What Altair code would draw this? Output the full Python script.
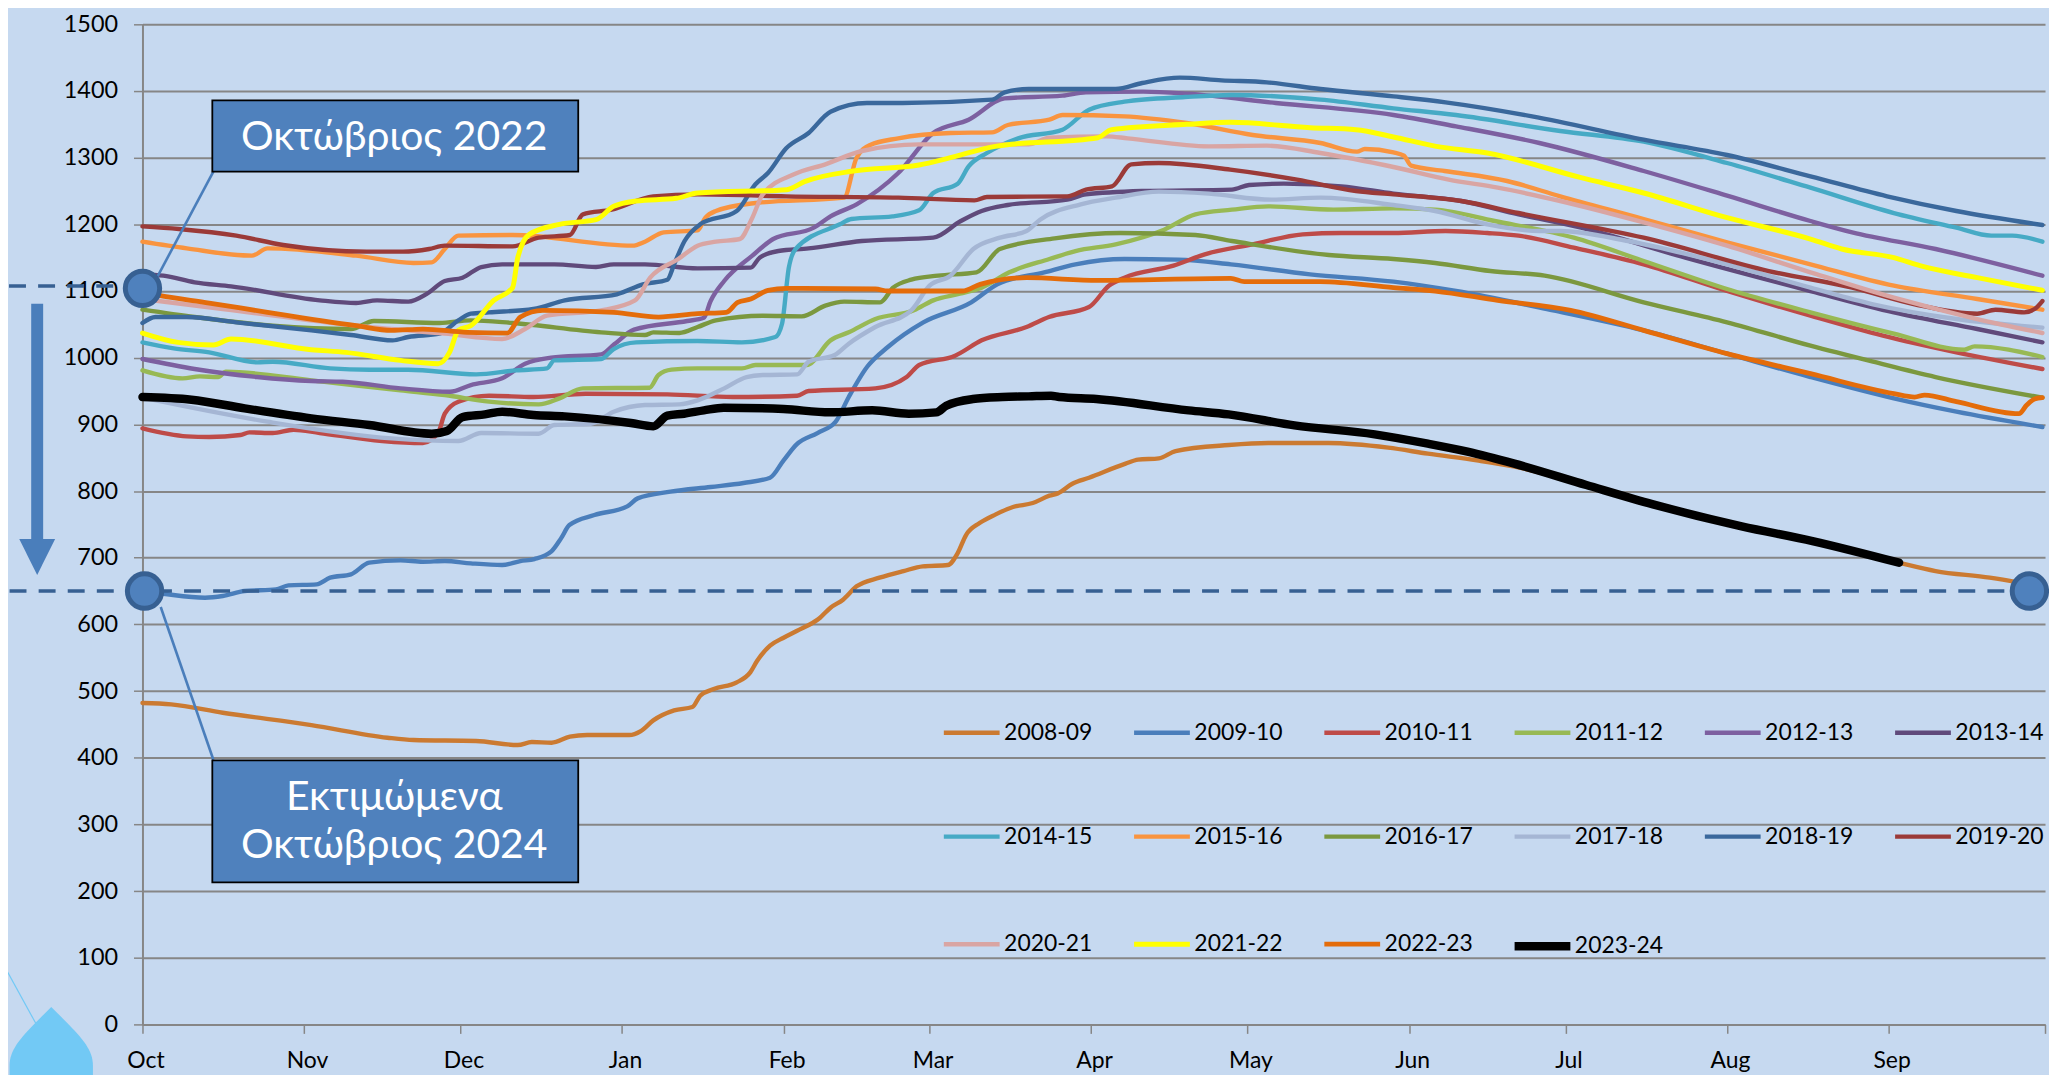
import json
import altair as alt
import pandas as pd

# ---------- axis content ----------
MONTH_DAYS = [0, 31, 61, 92, 123, 151, 182, 212, 243, 273, 304, 335, 365]
MONTH_NAMES = ["Oct", "Nov", "Dec", "Jan", "Feb", "Mar", "Apr", "May", "Jun", "Jul", "Aug", "Sep", ""]
Y_TICKS = list(range(0, 1501, 100))
SEASONS = ["2008-09", "2009-10", "2010-11", "2011-12", "2012-13", "2013-14", "2014-15", "2015-16",
           "2016-17", "2017-18", "2018-19", "2019-20", "2020-21", "2021-22", "2022-23", "2023-24"]
COLOURS = ["#cb7a31", "#4a7ebb", "#be4b48", "#98b954", "#7d60a0", "#604a7b", "#46aac5", "#f9943f",
           "#7b983f", "#a5b6d4", "#3a689c", "#9b3a38", "#d9a5a3", "#ffff00", "#e46c0a", "#000000"]
WIDTHS = [4.4, 4.4, 4.4, 4.4, 4.4, 4.4, 4.4, 4.4, 4.4, 4.4, 4.4, 4.4, 4.4, 5, 4.8, 8.5]

# ---------- series values: (day of the season, hm3) ----------
S0809 = [(0,482),(5.5,480),(15.4,467.5),(32.4,449),(47,430),(52,426.5),(64,425),(72,419),(74.7,423.5),(78.5,422.5),
         (82,431.5),(85.3,434),(93.4,434),(95.6,440),(98,456),(102,471),(105.5,476),(107,493),(109.6,503),(114,513),
         (116.6,528),(117.9,545),(120.4,568),(123,580),(125.5,590),(130,610),(132,625),(134.4,637),(137,657),(141.4,670),
         (146,680),(149.7,687),(154.5,689),(156.4,707),(158,734),(160.6,752),(163.7,765),(167,776),(170.8,782),(174,793),
         (175.6,796.5),(178.4,811),(181.6,820),(188.6,841),(191,847),(195,849),(198.2,860),(208.4,869),(216,872),(227.5,872),
         (239,865),(246.6,856),(256,846),(263,837),(277,809),(289.8,781),(306.8,748),(320.4,726),(337,692.5),
         (344,680),(354.4,670),(359,664),(364.5,655)]
S0910 = [(0,650),(4,646),(12,640),(15.4,642.5),(19.6,650),(25.6,652.5),(28,658.5),(33.4,660),(36,670),(40,675),
         (43.5,692.5),(49.5,696),(53.8,694),(58,695),(63,691.5),(69,689),(72.5,695),(75.2,698),(78.4,709),(80.3,729),
         (81.9,749),(86.7,764),(93,777),(95,789),(101.3,799),(109,806),(115.3,812),(120.4,820),(123,846),(125.5,870),
         (129.5,887),(133,904),(135.5,941),(139,986),(143,1016),(149.8,1053),(159,1083),(164,1110),(173,1128),(179,1140),
         (188.4,1148),(198.7,1147),(208.8,1140),(224,1125),(240,1114),(252,1100),(270.6,1071),(288,1041),(304,1006),(320,971),
         (336,939),(348,919),(364.5,896)]
S1011 = [(0,894),(8.5,882),(12.8,881),(18.8,884),(20.5,888),(25,887),(29,892),(34,887),(46,875),(53.8,872),
         (56.7,887),(58,916),(60.6,934),(66.5,943),(75,941),(85,946),(100.7,945),(113.3,941),(125.6,943),(127.8,950),
         (140.6,954),(146.6,971),(149,989),(155.9,1003),(161,1026),(169.6,1046),(173.9,1061),(181.6,1076),(185.4,1108),(188.4,1120),
         (197.8,1138),(203.8,1155),(213,1170),(222.6,1185),(230,1187),(240,1187),(250,1190),(258,1187),(264,1183),(274.6,1165),
         (288,1140),(304,1100),(320,1063),(333.9,1033),(348,1008),(364.5,983)]
S1112 = [(0,981),(7.7,969),(11,972),(14.5,971),(16,979),(32.4,966),(49.5,951),(58,944),(66.5,934),(76,930),
         (80,939),(84.5,954),(97.3,955),(99,974),(101.5,982),(106.5,984),(115,984),(117.6,989),(127.4,989),(132,1026),
         (135.5,1038),(140.6,1058),(148,1071),(151.7,1086),(156.8,1096),(161,1105),(166.3,1128),(174,1148),(179,1160),(186.7,1170),
         (196,1192),(202,1215),(209,1222),(216,1227),(228.5,1222),(240,1224),(248,1222),(259.4,1205),(274.6,1180),(288,1145),
         (304,1103),(320,1068),(336,1036),(349.5,1012),(351.5,1017),(364.5,1001)]
S1213 = [(0,998),(10,983),(22,971),(32.4,965),(38.4,964),(49.5,954),(59,949),(63,959),(69,969),(73.4,991),
         (78.4,1000),(88,1005),(90.5,1020),(94.3,1042),(104.5,1055),(107.7,1060),(109,1085),(111.6,1115),(117,1153),(121,1178),
         (128.8,1195),(132,1212),(137,1230),(145,1277),(151.7,1337),(158.5,1357),(165.4,1389),(176.5,1393),(181,1398),(192,1399),
         (200.3,1396),(217.4,1382),(240,1364),(252,1347),(268,1322),(288,1280),(304,1243),(320,1205),(328,1188),(344,1163),
         (364.5,1123)]
S1314 = [(0,1125),(4,1123),(10,1113),(17,1107),(34,1086),(41,1082),(45,1086),(51,1084),(54.6,1096),(58,1115),
         (61.4,1120),(65,1136),(69,1140),(79,1140),(87,1136),(90.4,1140),(96.4,1140),(106.5,1134),(116.7,1135),(118.4,1150),
         (122,1160),(127.8,1164),(138,1175),(151.7,1180),(157,1205),(161,1220),(166,1229),(177.4,1237),(181,1245),(192,1250),
         (209,1252),(212.3,1259),(219,1261),(230,1257),(240,1246),(253,1235),(264,1215),(276,1195),(296,1150),(320,1100),
         (336,1068),(352,1043),(364.5,1023)]
S1415 = [(0,1023),(6,1014),(12.8,1008),(22,993),(25,994),(36,984),(43.5,982),(51,982),(64,975),(71.7,981),
         (77.6,984),(79,996),(88,998),(90.4,1013),(94.7,1023),(106.5,1025),(115,1023),(121.4,1031),(122.7,1051),(124,1135),
         (125.3,1163),(133.8,1200),(136,1208),(143.9,1212),(149,1221),(151.7,1247),(156.4,1261),(158.5,1287),(162,1307),(168,1329),
         (176.5,1342),(181.6,1372),(188.4,1384),(200,1391),(209,1394),(226,1387),(240,1374),(252,1364),(272,1340),(288,1324),
         (304,1292),(320,1255),(336,1217),(348,1195),(354.7,1183),(358.7,1183),(364.5,1174)]
S1516 = [(0,1174),(8.5,1164),(21,1153),(24,1164),(41,1153),(52,1142),(55.5,1143),(58,1163),(60.6,1183),(71,1184),
         (94,1168),(96.4,1174),(100,1188),(106.5,1191),(108,1210),(110,1220),(117.6,1232),(134.6,1240),(137,1300),(139.6,1319),
         (145,1329),(155,1337),(163,1338),(166,1349),(174,1357),(176.5,1364),(188.4,1362),(200.3,1352),(213,1334),(226,1322),
         (233,1309),(234.5,1313),(240,1308),(242,1303),(243.4,1288),(249.8,1280),(261.8,1265),(272,1242),(288,1208),(304,1173),
         (320,1140),(336,1108),(352,1088),(364.5,1072)]
S1617 = [(0,1072),(10,1061),(25,1048),(40,1043),(44.4,1055),(57,1052),(63,1056),(71,1052),(88,1038),(96.4,1034),
         (98,1038),(103,1037),(106.5,1046),(110,1056),(119,1063),(126.5,1062),(131,1078),(134.6,1084),(141.5,1083),(144,1105),
         (147.5,1117),(152.6,1123),(160,1128),(164.5,1163),(175,1179),(187.6,1187),(202,1184),(209,1175),(227.6,1154),(240,1148),
         (248,1142),(258.6,1130),(269,1123),(288,1083),(304,1053),(320,1018),(332,994),(344,971),(364.5,940)]
S1718 = [(0,940),(24,904),(47.8,879),(60.6,875),(65,887),(76,886),(79,899),(86,901),(90.4,919),(96.4,929),
         (103,930),(106.5,936),(111.6,954),(115.9,971),(119,974),(125.6,975),(127.8,994),(132.8,1004),(135.5,1021),(140.6,1046),
         (147.5,1071),(151,1108),(155,1123),(159.4,1163),(164.5,1180),(169.6,1190),(172.2,1207),(180,1230),(186.7,1240),(195,1249),
         (204.6,1246),(216.6,1237),(226,1240),(240,1229),(248,1220),(258,1200),(268,1190),(272,1190),(285,1175),(304,1140),
         (320,1105),(332,1080),(348,1058),(364.5,1045)]
S1819 = [(0,1052),(2.5,1061),(8.5,1061),(18,1053),(32.4,1041),(40,1034),(48,1026),(51,1031),(57,1036),(60.6,1056),
         (63,1066),(66.5,1068),(75,1073),(81,1086),(91,1095),(96,1110),(100.7,1117),(102,1140),(104,1175),(107,1200),
         (114,1220),(117.6,1260),(120,1277),(123.5,1314),(127.8,1337),(132,1369),(139,1382),(145.8,1382),(163,1387),(165.4,1398),
         (170,1403),(186.7,1403),(191.8,1412),(199,1420),(207,1416),(215.7,1413),(226,1403),(240,1392),(250,1383),(266.6,1362),
         (288,1327),(304,1304),(320,1272),(334.7,1242),(348,1220),(364.5,1199)]
S1920 = [(0,1197),(7,1193),(18,1183),(27,1169),(43,1159),(50,1159),(55,1163),(58,1168),(71,1167),(76,1180),
         (82,1184),(84.5,1215),(90,1222),(98,1242),(106.5,1245),(123.5,1242),(145,1240),(159.6,1236),(162,1241),(177.4,1242),
         (181,1252),(186,1257),(189.7,1290),(195,1292),(208.7,1282),(221.5,1267),(232.8,1250),(240,1245),(253,1235),(264,1217),
         (288,1180),(312,1130),(328,1105),(340,1080),(352,1066),(355.5,1072),(361,1068),(363,1073),(364.5,1085)]
S2021 = [(0,1088),(15.4,1073),(41,1048),(58,1036),(69,1028),(73.4,1043),(77.6,1063),(88,1071),(94.5,1086),(97.4,1120),
         (102.8,1148),(106.5,1168),(110,1174),(114.6,1178),(117,1210),(119,1245),(125,1275),(131,1290),(138,1310),(149,1320),
         (170,1320),(174,1330),(185,1332),(189,1329),(204.6,1317),(215.7,1318),(226,1307),(240,1286),(250.6,1267),(260,1255),
         (272,1235),(288,1203),(304,1168),(320,1128),(336,1090),(352,1058),(364.5,1037)]
S2122 = [(0,1037),(6.8,1023),(13.6,1019),(17,1028),(32.4,1012),(39,1008),(49.5,996),(56.7,991),(58.9,1008),(60.6,1041),
         (63,1048),(67.4,1086),(71,1105),(72,1150),(74.2,1185),(80,1200),(87,1207),(90.4,1227),(94.7,1235),(102.4,1239),
         (106.5,1247),(123.6,1252),(127,1264),(136.4,1280),(149,1289),(155,1300),(163.6,1317),(183.3,1330),(185.9,1342),(200.3,1350),
         (208.8,1353),(224,1345),(232.8,1342),(240,1331),(248.2,1317),(258,1307),(276,1270),(288,1247),(304,1210),(320,1178),
         (326,1163),(336,1150),(341,1138),(352,1120),(364.5,1101)]
S2223 = [(0,1098),(3.4,1093),(12.8,1082),(24,1068),(41,1048),(47.8,1041),(53.8,1043),(62.3,1038),(70,1037),(72.5,1061),
         (76.8,1071),(90.4,1068),(99,1061),(106.5,1066),(112,1068),(114.2,1083),(116.7,1088),(120,1101),(123.6,1104),(140.6,1103),
         (143,1100),(157.3,1100),(160.7,1110),(169.6,1120),(183.3,1116),(208.8,1119),(211.4,1114),(226,1114),(240,1105),(248,1100),
         (260,1086),(274,1071),(288,1041),(304,1006),(320,976),(336,946),(340,941),(341.9,944),(348,934),(360,916),
         (361.5,929),(363,938),(364.5,940)]
S2324 = [(0,941),(9.4,937),(19.6,924),(32.4,909),(43.5,899),(55.5,886),(58.4,890),(61.4,911),(65.7,915),(69,919),
         (75,914),(81,912),(93.7,902),(98,897),(100.7,913),(103.9,916),(107.7,921),(111.5,925),(123,923),(131.9,918),
         (140,921),(147,916),(152.3,918),(154.2,928),(159.3,938),(165,941),(170,942),(174.3,943),(175.9,941),(183,938),
         (200.7,921),(208.4,915),(221,898.5),(236.4,885),(246.6,871),(254.2,859),(263.2,841),(277,809),(289.8,780),(306.8,747),
         (320.4,725),(337,692.5)]
ALL_SERIES = [S0809, S0910, S1011, S1112, S1213, S1314, S1415, S1516, S1617, S1718, S1819, S1920, S2021, S2122, S2223, S2324]

# ---------- annotation content (same day / value units as the chart) ----------
BOX_LEFT, BOX_RIGHT = 13.4, 83.6
BOX_TOPS = [1386, 396]
BOX_BOTTOMS = [1279, 213]
BOX_TEXT = ["Οκτώβριος 2022", "Εκτιμώμενα", "Οκτώβριος 2024"]
BOX_TEXT_Y = [1330, 340, 267]
BOX_TEXT_DAY = 48.3
MARKER_DAYS = [0, 0.4, 362]
MARKER_VALUES = [1104, 650, 650]
DASH_DAYS = [[-25.6, 0], [-25.5, 361]]
DASH_VALUES = [[1107.5, 1107.5], [650, 650]]
LEADER_DAYS = [[13.6, 2.9], [3.5, 13.6]]
LEADER_VALUES = [[1279, 1122], [626, 397]]
ARROW_DAY = -20.2
ARROW_VALUES = [1081, 727]
ARROW_HEAD_VALUE = 701
DROP_DAY, DROP_VALUE = -17.5, -35
DROP_LINE_DAYS = [-25.9, -20.5]
DROP_LINE_VALUES = [79, 2]

# ---------- tables ----------
rows = []
for season, pts in zip(SEASONS, ALL_SERIES):
    for d, v in pts:
        rows.append({"day": d, "value": v, "season": season})
series_df = pd.DataFrame(rows)

XS = alt.Scale(domain=[0, 365], nice=False, zero=False)
YS = alt.Scale(domain=[0, 1500], nice=False, zero=False)
FONT = "Lato"
BG = "#c6d9f0"
LINE_BLUE = "#4a7ebb"
DARK_BLUE = "#376092"
GREY = "#868686"

label_expr = "%s[indexof(%s, datum.value)]" % (json.dumps(MONTH_NAMES), json.dumps(MONTH_DAYS))
AX = alt.Axis(values=MONTH_DAYS, labelExpr=label_expr, grid=False, tickSize=9, tickColor=GREY, tickWidth=1.5,
              domainColor=GREY, domainWidth=2, labelFont=FONT, labelFontSize=23, labelColor="#000000",
              labelPadding=16, labelOffset=3, labelOverlap=False, labelFlush=False, title=None)
AY = alt.Axis(values=Y_TICKS, format="d", grid=True, gridColor=GREY, gridWidth=2, tickSize=9, tickColor=GREY, tickWidth=1.5,
              domainColor=GREY, domainWidth=2, labelFont=FONT, labelFontSize=23.5, labelColor="#000000",
              labelPadding=16, labelOverlap=False, title=None)


def x_(f="day"):
    return alt.X(f + ":Q", scale=XS, axis=AX)


def y_(f="value"):
    return alt.Y(f + ":Q", scale=YS, axis=AY)


LEG = dict(title=None, orient="none", legendX=800, legendY=677, columns=6, direction="horizontal", symbolType="stroke",
           symbolSize=3136, padding=0, rowPadding=58, columnPadding=24, labelFont=FONT, labelFontSize=23,
           labelColor="#000000", labelOffset=0, gridAlign="all", labelLimit=200)

lines = alt.Chart(series_df).mark_line(interpolate="monotone", strokeCap="round", strokeJoin="round").encode(
    x=x_(), y=y_(),
    color=alt.Color("season:N", sort=SEASONS, scale=alt.Scale(domain=SEASONS, range=COLOURS), legend=alt.Legend(**LEG)),
    strokeWidth=alt.StrokeWidth("season:N", sort=SEASONS,
                                scale=alt.Scale(type="ordinal", domain=SEASONS, range=WIDTHS), legend=alt.Legend(**LEG)),
)


def two_point(days, values, tag):
    out = []
    for i, (ds, vs) in enumerate(zip(days, values)):
        for d, v in zip(ds, vs):
            out.append({"day": d, "value": v, "g": f"{tag}{i}"})
    return pd.DataFrame(out)


dashes = alt.Chart(two_point(DASH_DAYS, DASH_VALUES, "d")).mark_line(
    color=DARK_BLUE, strokeWidth=3.5, strokeDash=[17, 12.2]).encode(x=x_(), y=y_(), detail="g:N")
leaders = alt.Chart(two_point(LEADER_DAYS, LEADER_VALUES, "l")).mark_line(
    color=LINE_BLUE, strokeWidth=2.6).encode(x=x_(), y=y_(), detail="g:N")
drop_line = alt.Chart(two_point([DROP_LINE_DAYS], [DROP_LINE_VALUES], "t")).mark_line(
    color="#72c9f5", strokeWidth=1.2).encode(x=x_(), y=y_(), detail="g:N")
shaft = alt.Chart(two_point([[ARROW_DAY, ARROW_DAY]], [ARROW_VALUES], "a")).mark_line(
    color=LINE_BLUE, strokeWidth=12).encode(x=x_(), y=y_(), detail="g:N")
head = alt.Chart(pd.DataFrame({"day": [ARROW_DAY], "value": [ARROW_HEAD_VALUE]})).mark_point(
    shape="M-1,-1L1,-1L0,1Z", filled=True, fill=LINE_BLUE, stroke=None, size=1296, opacity=1).encode(x=x_(), y=y_())
drop = alt.Chart(pd.DataFrame({"day": [DROP_DAY], "value": [DROP_VALUE]})).mark_point(
    shape="M0,-0.91L-0.34,-0.57C-0.7,-0.2,-0.93,0.05,-0.93,0.4L-0.93,1.2L0.93,1.2L0.93,0.4C0.93,0.05,0.7,-0.2,0.34,-0.57Z",
    filled=True, fill="#72c9f5", stroke=None, size=8100, opacity=1).encode(x=x_(), y=y_())
markers = alt.Chart(pd.DataFrame({"day": MARKER_DAYS, "value": MARKER_VALUES})).mark_point(
    shape="circle", filled=True, fill="#4f81bd", stroke=DARK_BLUE, strokeWidth=5, size=1190, opacity=1).encode(x=x_(), y=y_())
boxes = alt.Chart(pd.DataFrame({"x1": [BOX_LEFT, BOX_LEFT], "x2": [BOX_RIGHT, BOX_RIGHT],
                                "y1": BOX_TOPS, "y2": BOX_BOTTOMS})).mark_rect(
    fill="#4f81bd", stroke="#000000", strokeWidth=1.8, opacity=1).encode(
    x=x_("x1"), x2="x2:Q", y=y_("y1"), y2="y2:Q")
texts = alt.Chart(pd.DataFrame({"day": [BOX_TEXT_DAY] * 3, "value": BOX_TEXT_Y, "t": BOX_TEXT})).mark_text(
    font=FONT, fontSize=41, color="#ffffff", align="center", baseline="middle").encode(x=x_(), y=y_(), text="t:N")

chart = alt.layer(lines, dashes, drop_line, drop, shaft, head, leaders, markers, boxes, texts).properties(
    width=1910, height=1004, background=BG,
    padding={"left": 135, "top": 14.3, "right": 4, "bottom": 48.7},
    autosize=alt.AutoSizeParams(type="none"),
).configure_view(stroke=None)

chart.save("out.html", embed_options={"renderer": "svg", "actions": False})
